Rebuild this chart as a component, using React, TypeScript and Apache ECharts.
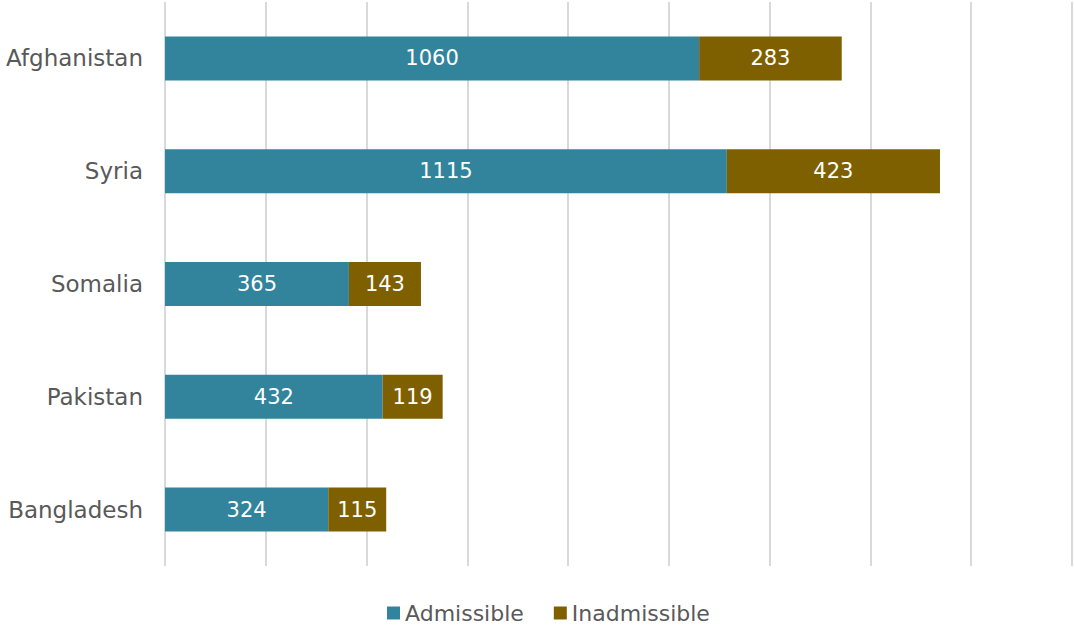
import React, { useEffect, useRef } from "react";
import * as echarts from "echarts";

const categories = ["Afghanistan", "Syria", "Somalia", "Pakistan", "Bangladesh"];
const admissible = [1060, 1115, 365, 432, 324];
const inadmissible = [283, 423, 143, 119, 115];
const seriesNames = ["Admissible", "Inadmissible"];

const FONT = "'DejaVu Sans', sans-serif";

export default function App() {
  const ref = useRef<HTMLDivElement>(null);
  useEffect(() => {
    document.body.style.margin = "0";
    const chart = echarts.init(ref.current!, null, { renderer: "svg" });
    const label = {
      show: true,
      position: "inside",
      color: "#ffffff",
      fontSize: 21,
      fontFamily: FONT,
    };
    chart.setOption({
      animation: false,
      textStyle: { fontFamily: FONT },
      grid: { left: 165, right: 2, top: 2, bottom: 64, containLabel: false },
      legend: {
        bottom: 1,
        left: 382,
        itemWidth: 13,
        itemHeight: 13,
        itemGap: 30,
        icon: "rect",
        textStyle: { color: "#595959", fontSize: 22, fontFamily: FONT },
        data: seriesNames,
      },
      xAxis: {
        type: "value",
        min: 0,
        max: 1800,
        interval: 200,
        axisLabel: { show: false },
        axisLine: { show: false },
        axisTick: { show: false },
        splitLine: { show: true, lineStyle: { color: "#d9d9d9", width: 2 } },
      },
      yAxis: {
        type: "category",
        inverse: true,
        data: categories,
        axisLine: { show: false },
        axisTick: { show: false },
        axisLabel: { color: "#595959", fontSize: 23, fontFamily: FONT, margin: 22 },
      },
      series: [
        {
          name: seriesNames[0],
          type: "bar",
          stack: "total",
          barWidth: 44,
          itemStyle: { color: "#31849B" },
          label,
          data: admissible,
        },
        {
          name: seriesNames[1],
          type: "bar",
          stack: "total",
          barWidth: 44,
          itemStyle: { color: "#7F6000" },
          label,
          data: inadmissible,
        },
      ],
    });
    return () => chart.dispose();
  }, []);
  return (
    <div
      ref={ref}
      style={{ position: "absolute", left: 0, top: 0, width: 1074, height: 630 }}
    />
  );
}
